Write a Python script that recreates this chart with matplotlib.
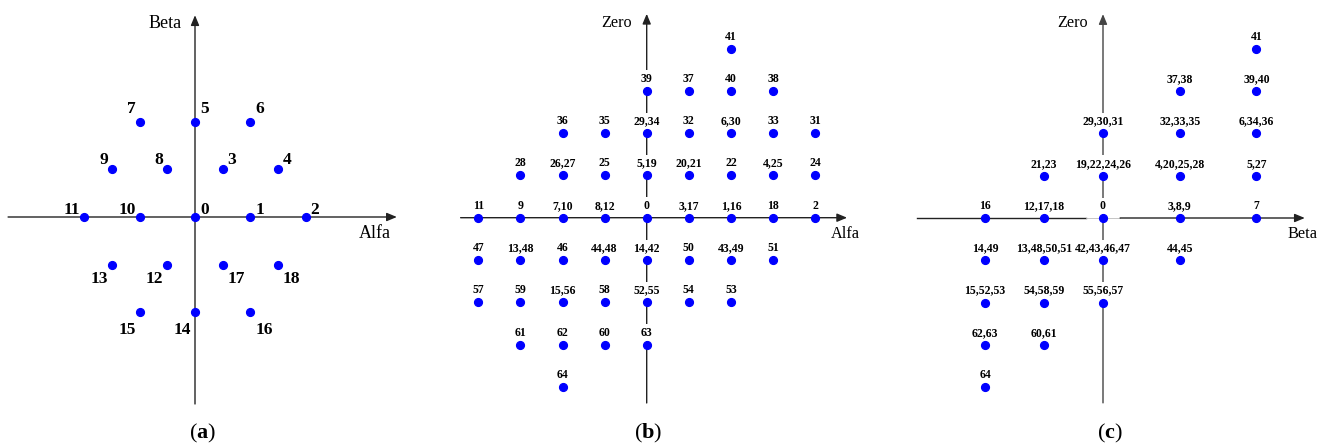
import matplotlib
matplotlib.use("Agg")
import matplotlib.pyplot as plt

plt.rcParams["font.family"] = ["Liberation Serif", "DejaVu Serif"]
plt.rcParams["mathtext.fontset"] = "custom"
plt.rcParams["mathtext.rm"] = "Liberation Serif"
plt.rcParams["mathtext.bf"] = "Liberation Serif:bold"

# ---- (a) two-level vectors in the Alfa-Beta plane ----
a_x = [0, 1, 2, 0.5, 1.5, 0, 1, -1, -0.5, -1.5, -1, -2, -0.5, -1.5, 0, -1, 1, 0.5, 1.5]
a_y = [0, 0, 0, 1, 1, 2, 2, 2, 1, 1, 0, 0, -1, -1, -2, -2, -2, -1, -1]
a_labels = [str(i) for i in range(19)]

# ---- (b) vectors in the Alfa-Zero plane ----
b_x = [2,
       0, 1, 2, 3,
       -2, -1, 0, 1, 2, 3, 4,
       -3, -2, -1, 0, 1, 2, 3, 4,
       -4, -3, -2, -1, 0, 1, 2, 3, 4,
       -4, -3, -2, -1, 0, 1, 2, 3,
       -4, -3, -2, -1, 0, 1, 2,
       -3, -2, -1, 0,
       -2]
b_y = [4,
       3, 3, 3, 3,
       2, 2, 2, 2, 2, 2, 2,
       1, 1, 1, 1, 1, 1, 1, 1,
       0, 0, 0, 0, 0, 0, 0, 0, 0,
       -1, -1, -1, -1, -1, -1, -1, -1,
       -2, -2, -2, -2, -2, -2, -2,
       -3, -3, -3, -3,
       -4]
b_labels = ["41",
            "39", "37", "40", "38",
            "36", "35", "29,34", "32", "6,30", "33", "31",
            "28", "26,27", "25", "5,19", "20,21", "22", "4,25", "24",
            "11", "9", "7,10", "8,12", "0", "3,17", "1,16", "18", "2",
            "47", "13,48", "46", "44,48", "14,42", "50", "43,49", "51",
            "57", "59", "15,56", "58", "52,55", "54", "53",
            "61", "62", "60", "63",
            "64"]

# ---- (c) vectors in the Beta-Zero plane ----
c_x = [2.6,
       1.3, 2.6,
       0, 1.3, 2.6,
       -1, 0, 1.3, 2.6,
       -2, -1, 0, 1.3, 2.6,
       -2, -1, 0, 1.3,
       -2, -1, 0,
       -2, -1,
       -2]
c_y = [4,
       3, 3,
       2, 2, 2,
       1, 1, 1, 1,
       0, 0, 0, 0, 0,
       -1, -1, -1, -1,
       -2, -2, -2,
       -3, -3,
       -4]
c_labels = ["41",
            "37,38", "39,40",
            "29,30,31", "32,33,35", "6,34,36",
            "21,23", "19,22,24,26", "4,20,25,28", "5,27",
            "16", "12,17,18", "0", "3,8,9", "7",
            "14,49", "13,48,50,51", "42,43,46,47", "44,45",
            "15,52,53", "54,58,59", "55,56,57",
            "62,63", "60,61",
            "64"]

W, H = 1330, 448
fig = plt.figure(figsize=(W / 100, H / 100), dpi=100)
PX = 0.72  # points per pixel at 100 dpi

AXIS_COLOR = "#222222"
DOT_COLOR = "#0000ff"


def make_panel(left, right, ox, oy, ux, uy):
    """Axes spanning [left, right] pixels with the origin at (ox, oy) px."""
    ax = fig.add_axes([left / W, 0, (right - left) / W, 1])
    ax.set_xlim((left - ox) / ux, (right - ox) / ux)
    ax.set_ylim((oy - H) / uy, oy / uy)
    ax.axis("off")
    return ax


def arrow(ax, start, tip, color=AXIS_COLOR):
    ax.annotate("", xy=tip, xytext=start, zorder=1,
                arrowprops=dict(arrowstyle="-|>,head_length=0.6,head_width=0.25",
                                lw=1.0, color=color, shrinkA=0, shrinkB=0))


# ---------------- panel (a) ----------------
ax = make_panel(0, 440, 195, 217, 55.3, 47.7)
arrow(ax, (-3.38, 0), (3.65, 0))
arrow(ax, (0, -3.92), (0, 4.23))
ax.plot(a_x, a_y, "o", color=DOT_COLOR, ms=5.6, zorder=3)
for x, y, s in zip(a_x, a_y, a_labels):
    right_side = (x > 0) or (x == 0 and y >= 0)
    dx = 5 if right_side else -4
    if y > 0:
        dy = 6 + 3.5 * y
    elif y == 0:
        dy = 7.5
    else:
        dy = -(10.5 + 3.5 * abs(y))
    ax.annotate(s, (x, y), xytext=(dx * PX, dy * PX), textcoords="offset points",
                ha="left" if right_side else "right", va="center",
                fontsize=12.5, fontweight="bold", zorder=2)
ax.annotate("Alfa", (3.65, 0), xytext=(-22 * PX, -16 * PX), textcoords="offset points",
            ha="center", va="center", fontsize=13)
ax.annotate("Beta", (0, 4.23), xytext=(-30 * PX, -8 * PX), textcoords="offset points",
            ha="center", va="center", fontsize=13)


def grid_panel(ax, xs, ys, labels, xlabel, x_tip):
    ax.plot(xs, ys, "o", color=DOT_COLOR, ms=5.6, zorder=3)
    for x, y, s in zip(xs, ys, labels):
        ax.annotate(s, (x, y), xytext=(0, 12 * PX), textcoords="offset points",
                    ha="center", va="center", fontsize=8.5, fontweight="bold", zorder=2,
                    bbox=dict(boxstyle="square,pad=0.2", fc="white", ec="none"))
    ax.annotate(xlabel, (x_tip, 0), xytext=(-2 * PX, -16 * PX), textcoords="offset points",
                ha="center", va="center", fontsize=11.7)


# ---------------- panel (b) ----------------
ax = make_panel(440, 890, 646.7, 217.7, 42.1, 42.3)
arrow(ax, (-4.42, 0), (4.76, 0))
arrow(ax, (0, -4.38), (0, 4.82))
grid_panel(ax, b_x, b_y, b_labels, "Alfa", 4.76)
ax.annotate("Zero", (0, 4.82), xytext=(-30 * PX, -9 * PX), textcoords="offset points",
            ha="center", va="center", fontsize=11.7)

# ---------------- panel (c) ----------------
ax = make_panel(890, 1330, 1103, 218, 59.0, 42.3)
ax.plot([-3.16, -0.29], [0, 0], color=AXIS_COLOR, lw=1.0, zorder=1)
ax.plot([-0.29, 0.29], [0, 0], color="#bbbbbb", lw=0.6, zorder=1)
arrow(ax, (0.29, 0), (3.42, 0))
arrow(ax, (0, -4.37), (0, 4.82), color="#444444")
grid_panel(ax, c_x, c_y, c_labels, "Beta", 3.42)
ax.annotate("Zero", (0, 4.82), xytext=(-30 * PX, -9 * PX), textcoords="offset points",
            ha="center", va="center", fontsize=11.7)

# ---------------- sub-figure captions ----------------
for xpix, letter in [(203, "a"), (648, "b"), (1110, "c")]:
    fig.text(xpix / W, 1 - 433 / H, r"($\mathbf{%s}$)" % letter,
             ha="center", va="center", fontsize=16)

fig.savefig("out.png", dpi=100)
